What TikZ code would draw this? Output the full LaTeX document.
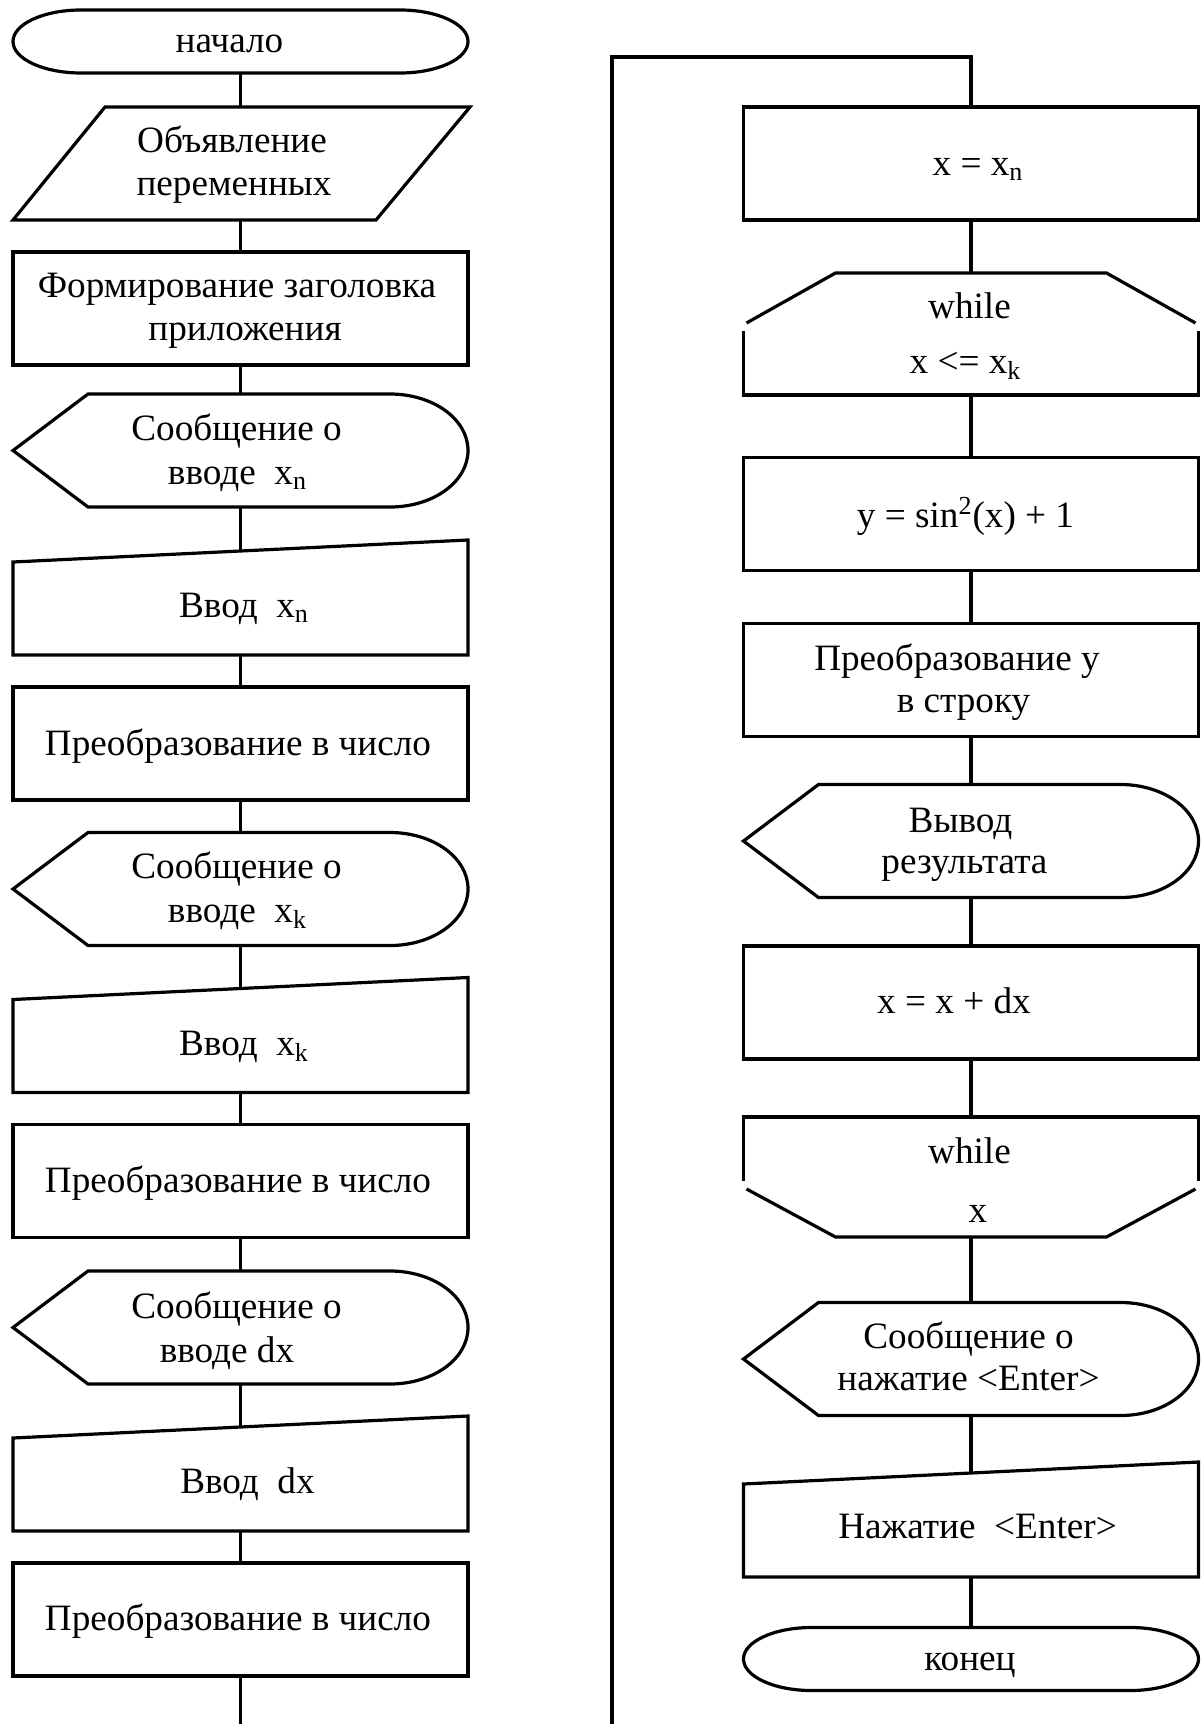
\documentclass[tikz,border=0pt]{standalone}
\usepackage{fontspec}
\setmainfont{Liberation Serif}
\usetikzlibrary{calc}
\newcommand{\lsub}[1]{\textsubscript{#1}}
\newcommand{\lsup}[1]{\textsuperscript{#1}}
\newcommand{\fcTerm}[1]{%
 \draw ($(#1.north west)+(68,0)$) -- ($(#1.north east)+(-68,0)$)
  .. controls ($(#1.north east)+(-30.5,0)$) and ($(#1.east)+(0,-17.4)$) .. (#1.east)
  .. controls ($(#1.east)+(0,17.4)$) and ($(#1.south east)+(-30.5,0)$) .. ($(#1.south east)+(-68,0)$)
  -- ($(#1.south west)+(68,0)$)
  .. controls ($(#1.south west)+(30.5,0)$) and ($(#1.west)+(0,17.4)$) .. (#1.west)
  .. controls ($(#1.west)+(0,-17.4)$) and ($(#1.north west)+(30.5,0)$) .. ($(#1.north west)+(68,0)$) -- cycle;}
\newcommand{\fcDisp}[1]{%
 \draw (#1.west) -- ($(#1.north west)+(75,0)$) -- ($(#1.north east)+(-78,0)$)
  .. controls ($(#1.north east)+(-35,0)$) and ($(#1.east)+(0,-31.5)$) .. (#1.east)
  .. controls ($(#1.east)+(0,31.5)$) and ($(#1.south east)+(-35,0)$) .. ($(#1.south east)+(-78,0)$)
  -- ($(#1.south west)+(75,0)$) -- cycle;}
\newcommand{\fcMan}[1]{%
 \draw (#1.north west) -- ($(#1.north east)+(0,-22)$) -- (#1.south east) -- (#1.south west) -- cycle;}
\newcommand{\fcPar}[1]{%
 \draw ($(#1.north west)+(92,0)$) -- ($(#1.north east)+(2,0)$) -- ($(#1.south east)+(-92,0)$) -- (#1.south west) -- cycle;}
\newcommand{\fcWhileTop}[1]{%
 \draw ($(#1.north west)+(3,50)$) -- ($(#1.north west)+(92,0)$) -- ($(#1.north east)+(-92,0)$) -- ($(#1.north east)+(-3,50)$);
 \draw ($(#1.north west)+(0,58)$) -- (#1.south west) -- (#1.south east) -- ($(#1.north east)+(0,58)$);}
\newcommand{\fcWhileBot}[1]{%
 \draw ($(#1.south west)+(0,-56)$) -- (#1.north west) -- (#1.north east) -- ($(#1.south east)+(0,-56)$);
 \draw ($(#1.south west)+(3,-48)$) -- ($(#1.south west)+(92,0)$) -- ($(#1.south east)+(-92,0)$) -- ($(#1.south east)+(-3,-48)$);}
\begin{document}
\begin{tikzpicture}[x=0.5pt,y=-0.5pt, line width=1.6pt, line join=miter,
  every node/.style={font=\fontsize{18.6pt}{21.6pt}\selectfont, inner sep=0pt, outer sep=0pt},
  procbox/.style={draw, minimum width=227.5pt, minimum height=56.5pt},
  shapebox/.style={minimum width=227.5pt, minimum height=56.5pt},
  termbox/.style={minimum width=227.5pt, minimum height=31.5pt},
  inbox/.style={minimum width=227.5pt, minimum height=46.5pt},
  lbl/.style={anchor=base}]
\useasboundingbox (0,0) rectangle (1204,1724);
% ---------------- left column: shapes
\node[termbox] (t1) at (240.5,41.5) {};
\node[shapebox] (p1) at (240.5,163.5) {};
\node[procbox] (b1) at (240.5,308.5) {};
\node[shapebox] (d1) at (240.5,450.5) {};
\node[inbox] (m1) at (240.5,608.5) {};
\node[procbox] (b2) at (240.5,743.5) {};
\node[shapebox] (d2) at (240.5,889) {};
\node[inbox] (m2) at (240.5,1046) {};
\node[procbox] (b3) at (240.5,1181) {};
\node[shapebox] (d3) at (240.5,1327.5) {};
\node[inbox] (m3) at (240.5,1484.5) {};
\node[procbox] (b4) at (240.5,1619.5) {};
\coordinate (lbot) at (240.5,1724);
\fcTerm{t1}
\fcPar{p1}
\fcDisp{d1}
\fcMan{m1}
\fcDisp{d2}
\fcMan{m2}
\fcDisp{d3}
\fcMan{m3}
% ---------------- left column: texts
\node[lbl] (t1a) at (229.5,53) {начало};
\node[lbl] (p1a) at (232,152) {Объявление};
\node[lbl] (p1b) at (234,195) {переменных};
\node[lbl] (b1a) at (237,297) {Формирование заголовка};
\node[lbl] (b1b) at (245,340) {приложения};
\node[lbl] (d1a) at (236.5,440) {Сообщение о};
\node[lbl] (d1b) at (237.5,484) {вводе\ \ x\lsub{n}};
\node[lbl] (m1a) at (244,617) {Ввод\ \ x\lsub{n}};
\node[lbl] (b2a) at (238,755) {Преобразование в число};
\node[lbl] (d2a) at (236.5,878) {Сообщение о};
\node[lbl] (d2b) at (237.5,922) {вводе\ \ x\lsub{k}};
\node[lbl] (m2a) at (244,1055) {Ввод\ \ x\lsub{k}};
\node[lbl] (b3a) at (238,1192) {Преобразование в число};
\node[lbl] (d3a) at (236.5,1318) {Сообщение о};
\node[lbl] (d3b) at (227,1362) {вводе dx};
\node[lbl] (m3a) at (247.5,1493) {Ввод\ \ dx};
\node[lbl] (b4a) at (238,1630) {Преобразование в число};
% ---------------- left column: connectors
\coordinate (m1in) at ($(m1.north)+(0,-11)$);
\coordinate (m2in) at ($(m2.north)+(0,-11)$);
\coordinate (m3in) at ($(m3.north)+(0,-11)$);
\draw (t1.south) -- (p1.north);
\draw (p1.south) -- (b1.north);
\draw (b1.south) -- (d1.north);
\draw (d1.south) -- (m1in);
\draw (m1.south) -- (b2.north);
\draw (b2.south) -- (d2.north);
\draw (d2.south) -- (m2in);
\draw (m2.south) -- (b3.north);
\draw (b3.south) -- (d3.north);
\draw (d3.south) -- (m3in);
\draw (m3.south) -- (b4.north);
\draw (b4.south) -- (lbot);
% ---------------- right column: shapes
\node[procbox] (r1) at (971,163.5) {};
\node[shapebox, minimum height=61pt] (w1) at (971,334) {};
\node[procbox] (r2) at (971,514) {};
\node[procbox] (r3) at (971,680) {};
\node[shapebox] (r4) at (971,841) {};
\node[procbox] (r5) at (971,1002.5) {};
\node[shapebox, minimum height=60pt] (w2) at (971,1177) {};
\node[shapebox] (r6) at (971,1359) {};
\node[inbox] (r7) at (971,1530.5) {};
\node[termbox] (r8) at (971,1659) {};
\fcWhileTop{w1}
\fcDisp{r4}
\fcWhileBot{w2}
\fcDisp{r6}
\fcMan{r7}
\fcTerm{r8}
% ---------------- right column: texts
\node[lbl] (r1a) at (978,175) {x = x\lsub{n}};
\node[lbl] (w1a) at (969.5,318) {while};
\node[lbl] (w1b) at (965.5,373) {x <= x\lsub{k}};
\node[lbl] (r2a) at (965.5,527) {y = sin\lsup{2}(x) + 1};
\node[lbl] (r3a) at (957,670) {Преобразование y};
\node[lbl] (r3b) at (963.5,712) {в строку};
\node[lbl] (r4a) at (960.5,832) {Вывод};
\node[lbl] (r4b) at (964.5,873) {результата};
\node[lbl] (r5a) at (954,1013) {x = x + dx};
\node[lbl] (w2a) at (969.5,1163) {while};
\node[lbl] (w2b) at (978,1222) {x};
\node[lbl] (r6a) at (968.5,1348) {Сообщение о};
\node[lbl] (r6b) at (968.5,1390) {нажатие <Enter>};
\node[lbl] (r7a) at (977.5,1538) {Нажатие\ \ <Enter>};
\node[lbl] (r8a) at (970,1670) {конец};
% ---------------- right column: connectors
\coordinate (r7in) at ($(r7.north)+(0,-11)$);
\coordinate (lpb) at (612,1724);
\coordinate (lpt) at (612,57);
\coordinate (lptr) at (971,57);
\draw (lpb) -- (lpt) -- (lptr) -- (r1.north);
\draw (r1.south) -- (w1.north);
\draw (w1.south) -- (r2.north);
\draw (r2.south) -- (r3.north);
\draw (r3.south) -- (r4.north);
\draw (r4.south) -- (r5.north);
\draw (r5.south) -- (w2.north);
\draw (w2.south) -- (r6.north);
\draw (r6.south) -- (r7in);
\draw (r7.south) -- (r8.north);
\end{tikzpicture}
\end{document}
